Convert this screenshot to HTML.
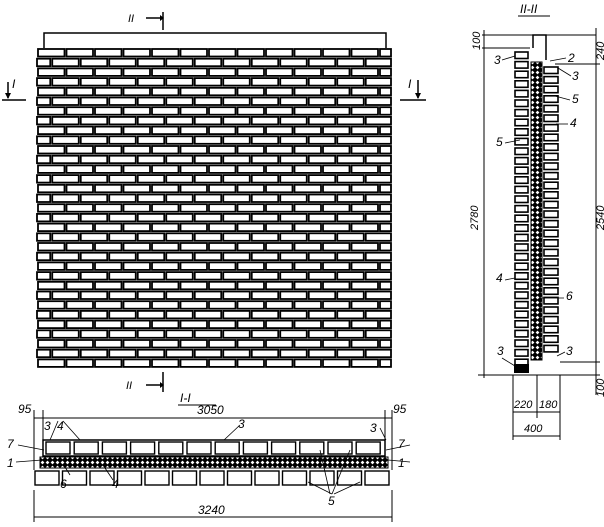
<!DOCTYPE html>
<html><head><meta charset="utf-8"><style>
html,body{margin:0;padding:0;background:#fff;}
svg{display:block;}
text{font-family:"Liberation Sans",sans-serif;font-style:italic;fill:#000;}
</style></head><body>
<svg id="s" width="604" height="527" viewBox="0 0 604 527" xmlns="http://www.w3.org/2000/svg">
<defs>
<pattern id="hx" width="5" height="5" patternUnits="userSpaceOnUse">
<rect width="5" height="5" fill="#000"/>
<path d="M2.5 0.6 L4.4 2.5 L2.5 4.4 L0.6 2.5Z" fill="#fff"/>
</pattern>
</defs>
<g id="g" stroke="#000" fill="none"></g>
<path d="M44 48 V33 H386 V48" stroke="#000" stroke-width="1.5" fill="none"/>
<g stroke="#000" stroke-width="1.5" fill="none">
<line x1="163" y1="12" x2="163" y2="30"/><line x1="146" y1="18" x2="160" y2="18"/>
<line x1="163" y1="372" x2="163" y2="392"/><line x1="146" y1="385" x2="160" y2="385"/>
<line x1="2" y1="100" x2="26" y2="100"/><line x1="8" y1="82" x2="8" y2="98"/>
<line x1="400" y1="100" x2="426" y2="100"/><line x1="418" y1="80" x2="418" y2="98"/>
</g>
<g fill="#000"><path d="M160 15 L164 18 L160 21Z"/><path d="M160 382 L164 385 L160 388Z"/>
<path d="M5 93 L8 99 L11 93Z"/><path d="M415 93 L418 99 L421 93Z"/></g>
<text x="128" y="22" font-size="11">II</text>
<text x="126" y="389" font-size="11">II</text>
<text x="12" y="88" font-size="12">I</text>
<text x="408" y="88" font-size="12">I</text>

<text x="180" y="402" font-size="12">I-I</text>
<line x1="178" y1="405" x2="216" y2="405" stroke="#000"/>
<text x="197" y="414" font-size="12">3050</text>
<text x="18" y="413" font-size="12">95</text>
<text x="393" y="413" font-size="12">95</text>
<g stroke="#000" stroke-width="1" fill="none">
<line x1="34" y1="418" x2="392" y2="418"/>
<line x1="34" y1="410" x2="34" y2="470"/><line x1="43" y1="410" x2="43" y2="440"/>
<line x1="385" y1="410" x2="385" y2="440"/><line x1="392" y1="410" x2="392" y2="470"/>
<line x1="34" y1="490" x2="34" y2="522"/><line x1="392" y1="490" x2="392" y2="522"/>
<line x1="34" y1="517" x2="392" y2="517"/>
<rect x="43" y="440" width="342" height="16" stroke-width="1.5"/>
<rect x="40" y="457" width="348" height="11" fill="url(#hx)"/>
</g>
<text x="198" y="514" font-size="12">3240</text>
<g id="s1" stroke="#000" fill="#fff" stroke-width="1.6"></g>
<g stroke="#000" stroke-width="0.8" fill="none">
<line x1="18" y1="445" x2="44" y2="450"/><line x1="16" y1="462" x2="42" y2="460"/>
<line x1="410" y1="445" x2="386" y2="450"/><line x1="410" y1="462" x2="388" y2="460"/>
<line x1="58" y1="421" x2="50" y2="440"/><line x1="63" y1="421" x2="80" y2="440"/>
<line x1="65" y1="467" x2="70" y2="475"/><line x1="113" y1="480" x2="105" y2="468"/>
<line x1="240" y1="425" x2="224" y2="440"/><line x1="380" y1="428" x2="386" y2="440"/>
<line x1="330" y1="494" x2="320" y2="450"/><line x1="332" y1="494" x2="350" y2="450"/>
<line x1="332" y1="494" x2="308" y2="482"/><line x1="334" y1="494" x2="360" y2="482"/>
</g>
<g font-size="12"><text x="7" y="448">7</text><text x="7" y="467">1</text>
<text x="44" y="430">3</text><text x="57" y="430">4</text>
<text x="60" y="488">6</text><text x="112" y="488">4</text>
<text x="238" y="428">3</text><text x="370" y="432">3</text>
<text x="398" y="448">7</text><text x="398" y="467">1</text>
<text x="328" y="505">5</text></g>

<text x="520" y="13" font-size="12">II-II</text>
<line x1="518" y1="16" x2="550" y2="16" stroke="#000"/>
<g stroke="#000" stroke-width="1" fill="none">
<line x1="482" y1="35" x2="596" y2="35"/><line x1="482" y1="48" x2="530" y2="48"/>
<line x1="484" y1="30" x2="484" y2="378"/>
<line x1="596" y1="28" x2="596" y2="395"/>
<line x1="555" y1="64" x2="600" y2="64"/>
<line x1="560" y1="362" x2="600" y2="362"/>
<line x1="478" y1="375" x2="600" y2="375"/>
<line x1="513" y1="375" x2="513" y2="440"/><line x1="537" y1="375" x2="537" y2="418"/><line x1="560" y1="375" x2="560" y2="440"/>
<line x1="513" y1="412" x2="560" y2="412"/><line x1="513" y1="436" x2="560" y2="436"/>
<path d="M533 48 V35 H546 V60" stroke-width="1.5"/>
<rect x="531" y="62" width="11" height="298" fill="url(#hx)"/>
</g>
<g id="s2" stroke="#000" fill="#fff" stroke-width="1.6"></g>
<rect x="514" y="364" width="15" height="9" fill="#000"/>
<g font-size="11">
<text x="0" y="0" transform="translate(480,50) rotate(-90)">100</text>
<text x="0" y="0" transform="translate(478,230) rotate(-90)">2780</text>
<text x="0" y="0" transform="translate(604,60) rotate(-90)">240</text>
<text x="0" y="0" transform="translate(604,230) rotate(-90)">2540</text>
<text x="0" y="0" transform="translate(604,397) rotate(-90)">100</text>
<text x="514" y="408">220</text><text x="539" y="408">180</text>
<text x="524" y="432">400</text>
</g>
<g font-size="12"><text x="494" y="64">3</text><text x="568" y="62">2</text><text x="572" y="80">3</text>
<text x="572" y="103">5</text><text x="570" y="127">4</text><text x="496" y="146">5</text>
<text x="496" y="282">4</text><text x="566" y="300">6</text><text x="497" y="355">3</text><text x="566" y="355">3</text></g>
<g stroke="#000" stroke-width="0.8"><line x1="502" y1="60" x2="515" y2="56"/><line x1="566" y1="58" x2="550" y2="61"/>
<line x1="571" y1="76" x2="558" y2="68"/><line x1="570" y1="100" x2="555" y2="96"/><line x1="568" y1="124" x2="556" y2="124"/>
<line x1="505" y1="143" x2="520" y2="140"/><line x1="505" y1="280" x2="515" y2="278"/><line x1="564" y1="298" x2="542" y2="298"/>
<line x1="502" y1="358" x2="515" y2="366"/><line x1="565" y1="352" x2="557" y2="356"/></g>
</svg>
<script>
(function(){
var NS="http://www.w3.org/2000/svg";
function R(p,x,y,w,h,sw){var r=document.createElementNS(NS,"rect");r.setAttribute("x",x);r.setAttribute("y",y);r.setAttribute("width",w);r.setAttribute("height",h);r.setAttribute("fill","#fff");r.setAttribute("stroke","#000");r.setAttribute("stroke-width",sw||1.8);p.appendChild(r);}
var g=document.getElementById("g");
var y0=48,ph=9.7,pw=28.5;
for(var i=0;i<33;i++){var y=y0+i*ph;var off=(i%2)?-pw/2:0;
 for(var x=37+off;x<392;x+=pw){var xa=Math.max(x+1,37),xb=Math.min(x+pw-1,391);if(xb-xa<3)continue;R(g,xa,y+1,xb-xa,ph-2.2,1.8);}}
var s1=document.getElementById("s1");
for(var i=0;i<12;i++){var x=46+i*28.2;R(s1,x,442,Math.min(24,384-x),12,1.4);}
for(var i=0;i<13;i++){var x=35+i*27.5;R(s1,x,471,Math.min(24,391-x),14,1.4);}
var s2=document.getElementById("s2");
for(var i=0;i<33;i++){var y=52+i*9.6;if(y>362)break;R(s2,515,y,13,6.5,1.6);}
for(var i=0;i<31;i++){var y=67+i*9.6;if(y>352)break;R(s2,544,y,14,6.5,1.6);}
})();
</script>
</body></html>
